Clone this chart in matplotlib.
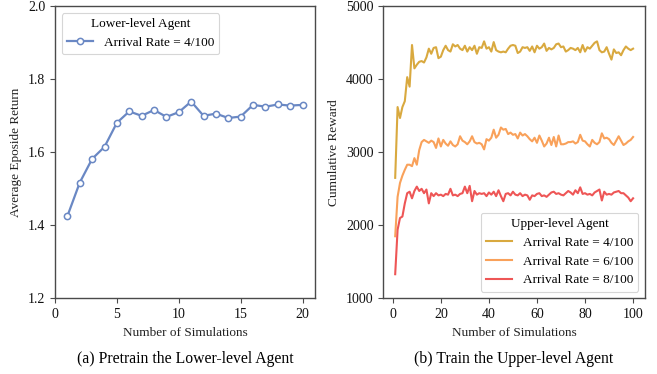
import matplotlib
matplotlib.use('Agg')
import matplotlib.pyplot as plt
import numpy as np

plt.rcParams['font.family'] = ['Liberation Serif', 'DejaVu Serif']
plt.rcParams['mathtext.fontset'] = 'stix'

# (a) lower-level agent pretraining
sims_a = list(range(1, 21))
return_a = [1.425, 1.517, 1.582, 1.615, 1.681, 1.712, 1.700, 1.716, 1.697, 1.710,
            1.739, 1.700, 1.706, 1.694, 1.698, 1.730, 1.725, 1.731, 1.728, 1.730]

# (b) upper-level agent training
sims_b = list(range(1, 101))
reward_4 = [2650, 3620, 3470, 3620, 3700, 4030, 3900, 4470, 4150, 4200,
            4240, 4250, 4230, 4300, 4420, 4350, 4430, 4440, 4290, 4310,
            4400, 4460, 4400, 4380, 4480, 4450, 4470, 4420, 4400, 4460,
            4380, 4440, 4400, 4460, 4350, 4440, 4430, 4520, 4420, 4440,
            4380, 4510, 4400, 4380, 4370, 4380, 4370, 4420, 4460, 4470,
            4460, 4360, 4380, 4440, 4430, 4440, 4390, 4450, 4370, 4460,
            4420, 4440, 4490, 4390, 4430, 4410, 4430, 4480, 4490, 4440,
            4450, 4380, 4400, 4430, 4420, 4400, 4430, 4370, 4470, 4380,
            4440, 4420, 4460, 4500, 4520, 4400, 4370, 4380, 4440, 4350,
            4270, 4410, 4360, 4370, 4330, 4400, 4450, 4420, 4400, 4420]
reward_6 = [1850, 2390, 2580, 2680, 2760, 2830, 2830, 2810, 2920, 2830,
            3030, 3140, 3170, 3150, 3130, 3160, 3140, 3060, 3190, 3080,
            3170, 3120, 3090, 3150, 3100, 3080, 3110, 3220, 3160, 3140,
            3110, 3150, 3220, 3140, 3120, 3130, 3110, 3040, 3180, 3160,
            3200, 3310, 3200, 3240, 3340, 3310, 3320, 3250, 3270, 3240,
            3250, 3190, 3270, 3230, 3250, 3220, 3180, 3150, 3200, 3130,
            3230, 3160, 3080, 3120, 3200, 3100, 3210, 3080, 3230, 3110,
            3110, 3120, 3140, 3140, 3150, 3120, 3140, 3240, 3160, 3150,
            3110, 3080, 3170, 3130, 3110, 3140, 3260, 3190, 3200, 3180,
            3130, 3100, 3160, 3220, 3160, 3100, 3120, 3150, 3170, 3210]
reward_8 = [1330, 1940, 2100, 2120, 2300, 2440, 2460, 2370, 2470, 2530,
            2470, 2500, 2440, 2490, 2300, 2440, 2400, 2440, 2410, 2420,
            2400, 2430, 2420, 2500, 2410, 2420, 2400, 2430, 2440, 2530,
            2440, 2540, 2330, 2470, 2420, 2440, 2430, 2440, 2400, 2450,
            2420, 2460, 2400, 2480, 2400, 2330, 2430, 2440, 2410, 2460,
            2420, 2410, 2440, 2400, 2420, 2410, 2350, 2410, 2400, 2430,
            2440, 2400, 2410, 2390, 2420, 2450, 2460, 2430, 2440, 2420,
            2410, 2440, 2470, 2450, 2420, 2480, 2440, 2520, 2430, 2440,
            2420, 2430, 2410, 2450, 2470, 2490, 2340, 2460, 2420, 2430,
            2420, 2450, 2460, 2470, 2440, 2440, 2410, 2380, 2330, 2370]

rate_labels = ['Arrival Rate = 4/100', 'Arrival Rate = 6/100', 'Arrival Rate = 8/100']
colors = ['#D9A93F', '#F9A15A', '#EE5656']

fig = plt.figure(figsize=(6.57, 3.74), dpi=100)
ax1 = fig.add_axes([0.0837, 0.2024, 0.3957, 0.7807])
ax2 = fig.add_axes([0.5834, 0.2024, 0.3983, 0.7807])

spine_col = '#4a4a4a'
for ax in (ax1, ax2):
    for s in ax.spines.values():
        s.set_color(spine_col)
        s.set_linewidth(1.0)
    ax.tick_params(colors=spine_col, labelcolor='#111111', labelsize=10, length=3.5)

# left panel
ax1.plot(sims_a, return_a, color='#6A88C4', lw=1.6, marker='o', ms=4.5,
         mfc='white', mec='#6A88C4', mew=1.1, label='Arrival Rate = 4/100')
ax1.set_xlim(0, 21)
ax1.set_ylim(1.2, 2.0)
ax1.set_xticks([0, 5, 10, 15, 20])
ax1.set_yticks([1.2, 1.4, 1.6, 1.8, 2.0])
ax1.set_xlabel('Number of Simulations', fontsize=9.5, color='#222222')
ax1.set_ylabel('Average Eposide Return', fontsize=9.5, color='#222222')
leg1 = ax1.legend(title='Lower-level Agent', loc='upper left', fontsize=9.5,
                  title_fontsize=9.5, edgecolor='#cccccc', fancybox=True)
leg1.get_frame().set_linewidth(0.8)

# right panel
for vals, c, lab in zip([reward_4, reward_6, reward_8], colors, rate_labels):
    ax2.plot(sims_b, vals, color=c, lw=1.5, label=lab)
ax2.set_ylim(1000, 5000)
ax2.set_xticks([0, 20, 40, 60, 80, 100])
ax2.set_yticks([1000, 2000, 3000, 4000, 5000])
ax2.set_xlabel('Number of Simulations', fontsize=9.5, color='#222222')
ax2.set_ylabel('Cumulative Reward', fontsize=9.5, color='#222222')
leg2 = ax2.legend(title='Upper-level Agent', loc='lower right', fontsize=9.5,
                  title_fontsize=9.5, edgecolor='#cccccc', fancybox=True)
leg2.get_frame().set_linewidth(0.8)

fig.text(0.2815, 0.04, '(a) Pretrain the Lower-level Agent', ha='center', va='center', fontsize=11.3)
fig.text(0.7825, 0.04, '(b) Train the Upper-level Agent', ha='center', va='center', fontsize=11.3)

fig.savefig('out.png', dpi=100)
